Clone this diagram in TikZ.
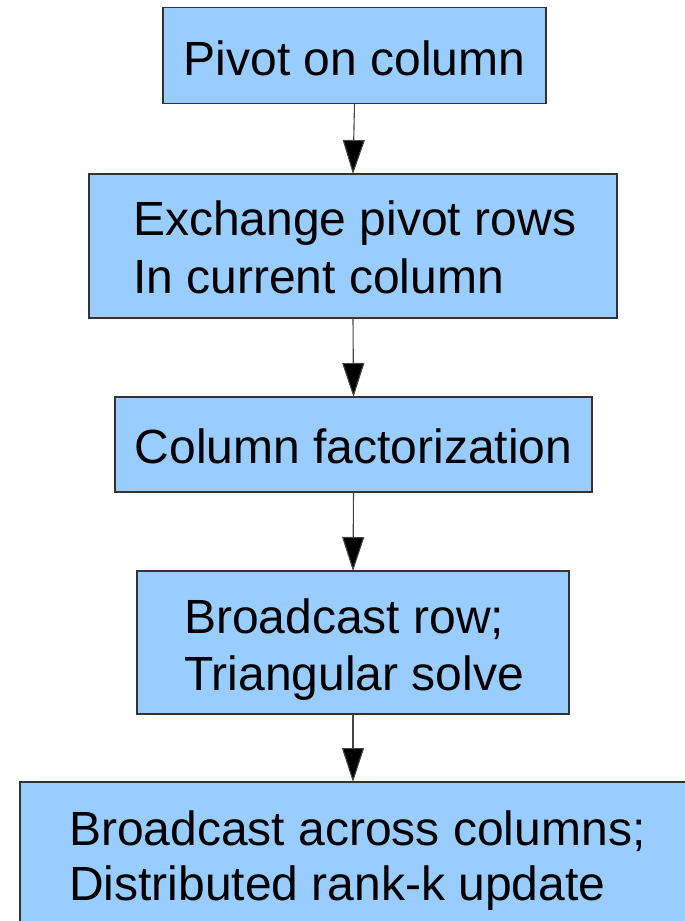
\documentclass[tikz,border=0pt]{standalone}
\usepackage{fontspec}
\setmainfont{Liberation Sans}
\usetikzlibrary{arrows.meta}
\definecolor{boxfill}{HTML}{99CCFF}
\definecolor{boxline}{HTML}{333333}
\definecolor{arrline}{HTML}{444444}
\begin{document}
\begin{tikzpicture}[x=1pt,y=-1pt,
  stepbox/.style={draw=boxline,line width=1.3pt,fill=boxfill,inner sep=0pt,outer sep=0pt},
  txt/.style={inner sep=0pt,font=\fontsize{48}{57}\selectfont},
  arr/.style={draw=arrline,line width=1.1pt,-{Triangle[length=34pt,width=22pt,fill=black]}}]
\useasboundingbox (0,0) rectangle (685,921);
\clip (0,0) rectangle (685,921);
% boxes (positions given by corners)
\node[stepbox,minimum width=383pt,minimum height=96pt] (b1) at (354.5,55.5) {};
\node[stepbox,minimum width=528pt,minimum height=144pt] (b2) at (353,246) {};
\node[stepbox,minimum width=477pt,minimum height=95pt] (b3) at (353.5,444.5) {};
\node[stepbox,minimum width=432pt,minimum height=143pt] (b4) at (353,642.5) {};
\node[stepbox,minimum width=690pt,minimum height=170pt] (b5) at (365,867) {};
% texts
\node[txt,anchor=base] (t1) at (354.5,75) {Pivot on column};
\node[txt,anchor=base west] (t2a) at (133,235) {Exchange pivot rows};
\node[txt,anchor=base west] (t2b) at (133,293) {In current column};
\node[txt,anchor=base] (t3) at (353.5,463) {Column factorization};
\node[txt,anchor=base west] (t4a) at (184,633) {Broadcast row;};
\node[txt,anchor=base west] (t4b) at (184,690) {Triangular solve};
\node[txt,anchor=base west] (t5a) at (69,845) {Broadcast across columns;};
\node[txt,anchor=base west] (t5b) at (69,900) {Distributed rank-k update};
% connectors
\draw[arr] (b1.south) -- (b2.north);
\draw[arr] (b2.south) -- (b3.north);
\draw[arr] (b3.south) -- (b4.north);
\draw[arr] (b4.south) -- (b4.south |- b5.north);
\end{tikzpicture}
\end{document}
